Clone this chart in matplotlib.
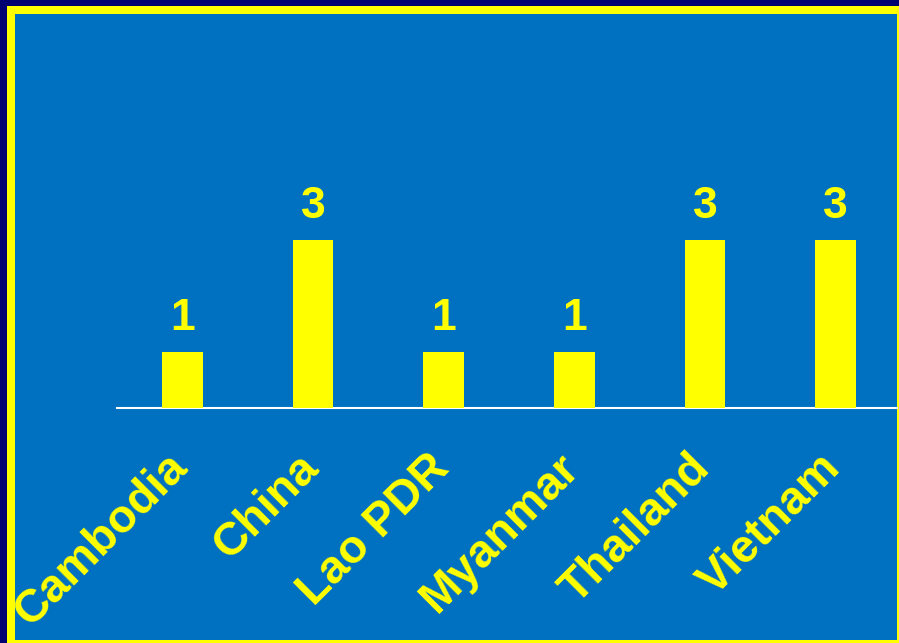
import matplotlib
matplotlib.use("Agg")
import matplotlib.pyplot as plt
from matplotlib.patches import Rectangle
from matplotlib.transforms import ScaledTranslation

categories = ["Cambodia", "China", "Lao PDR", "Myanmar", "Thailand", "Vietnam"]
values = [1, 3, 1, 1, 3, 3]

W, H = 899, 643
DPI = 100
fig = plt.figure(figsize=(W / DPI, H / DPI), dpi=DPI, facecolor="#000070")
plt.rcParams["font.family"] = ["Liberation Sans", "DejaVu Sans"]

# frame: yellow border and blue panel (pixel coords -> figure fractions)
def px_rect(x0, y0, x1, y1, color, z):
    r = Rectangle((x0 / W, 1 - y1 / H), (x1 - x0) / W, (y1 - y0) / H,
                  transform=fig.transFigure, facecolor=color, edgecolor="none",
                  zorder=z)
    fig.patches.append(r)

px_rect(7, 6, W, H, "#FFFF00", -20)
px_rect(15, 14, 897, 640, "#0070C0", -19)

left_px, right_px = 117, 897
base_px, top_px = 408, 128
ax = fig.add_axes([left_px / W, 1 - base_px / H, (right_px - left_px) / W,
                   (base_px - top_px) / H])
ax.patch.set_visible(False)

x = list(range(len(categories)))
bars = ax.bar(x, values, width=0.31, color="#FFFF00", edgecolor="none", zorder=3)
ax.set_xlim(-0.5, 5.47)
ax.set_ylim(0, 5)

ax.bar_label(bars, labels=[str(v) for v in values], padding=9, color="#FFFF00",
             fontsize=32, fontweight="bold")

for s in ["left", "right", "top"]:
    ax.spines[s].set_visible(False)
ax.spines["bottom"].set_color("white")
ax.spines["bottom"].set_linewidth(1.5)
ax.set_yticks([])
ax.set_xticks(x)
ax.set_xticklabels(categories, rotation=45, ha="right", color="#FFFF00",
                   fontsize=33.5, fontweight="bold")
ax.tick_params(axis="x", length=0, pad=27)
offset = ScaledTranslation(14 / DPI, 0, fig.dpi_scale_trans)
for lab in ax.get_xticklabels():
    lab.set_transform(lab.get_transform() + offset)

fig.savefig("out.png", dpi=DPI, facecolor=fig.get_facecolor())
